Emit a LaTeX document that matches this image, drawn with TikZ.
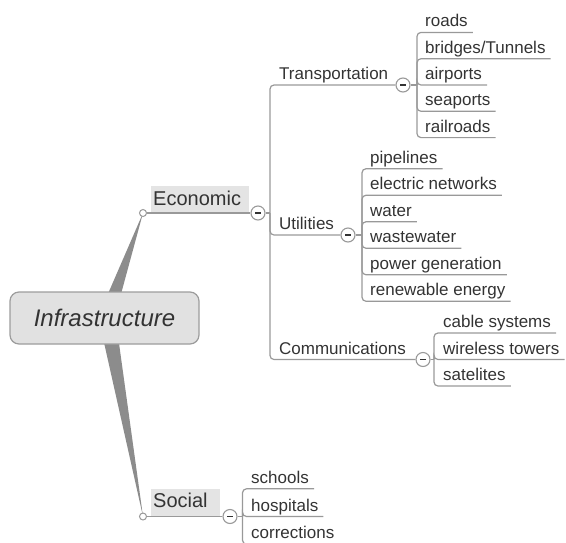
\documentclass[tikz,border=0pt]{standalone}
\usepackage{fontspec}
\setmainfont{Liberation Sans}
\usetikzlibrary{calc}
\definecolor{linegray}{HTML}{999999}
\definecolor{wedgegray}{HTML}{8C8C8C}
\definecolor{boxfill}{HTML}{E1E1E1}
\definecolor{boxline}{HTML}{9C9C9C}
\definecolor{ink}{HTML}{333333}
\definecolor{hilite}{HTML}{E4E4E4}
\pgfdeclarelayer{background}
\pgfsetlayers{background,main}

\begin{document}
\begin{tikzpicture}[x=1pt,y=-1pt,
  conn/.style={draw=linegray, line width=1.2pt},
  branch/.style={conn, rounded corners=4pt},
  leaf/.style={anchor=base west, inner sep=0pt, text=ink,
    font=\fontsize{17}{20}\selectfont},
  subtopic/.style={leaf},
  maintopic/.style={fill=hilite, anchor=north west, inner xsep=2pt,
    inner ysep=4pt, text height=15pt, text depth=4pt, align=left,
    text=ink, font=\fontsize{20}{24}\selectfont},
  central/.style={draw=boxline, fill=boxfill, rounded corners=9pt,
    line width=1.2pt, minimum width=189pt, minimum height=52pt,
    text=ink, font=\fontsize{24}{28}\selectfont\itshape},
  bullet/.style={circle, draw=linegray, fill=white, line width=1pt,
    minimum size=7pt, inner sep=0pt},
  fold/.style={circle, draw=linegray, fill=white, line width=1.1pt,
    minimum size=14pt, inner sep=0pt,
    path picture={\draw[ink, line width=1.4pt]
      ($(path picture bounding box.center)+(-3,0)$) -- ++(6,0);}},
]
\useasboundingbox (0,0) rectangle (566,542);

% central topic and its two tapered branches
\node[central] (infra) at (104.5,318) {Infrastructure};
\node[bullet] (econb) at (143,213) {};
\node[bullet] (socb) at (143,516.5) {};
\begin{pgfonlayer}{background}
  \fill[wedgegray] ($(infra.center)+(-7,0)$) -- (econb.center)
    -- ($(infra.center)+(10,0)$) -- cycle;
  \fill[wedgegray] ($(infra.center)+(-6,0)$) -- (socb.center)
    -- ($(infra.center)+(11,0)$) -- cycle;
\end{pgfonlayer}

% main topics
\node[maintopic, text width=94pt] (economic) at (151,186) {Economic};
\node[maintopic, text width=65pt] (social) at (151,488.5) {Social};
\node[fold] (cE) at (258,213) {};
\node[fold] (cS) at (230,516.5) {};
\draw[conn] (econb) -- (cE);
\draw[conn] (socb) -- (cS);

% Economic sub-branches
\coordinate (bE) at (270,213);
\node[subtopic] (transport) at (279,79.5) {Transportation};
\node[subtopic] (utilities) at (279,229.5) {Utilities};
\node[subtopic] (comms) at (279,354) {Communications};
\node[fold] (cT) at (403,85) {};
\node[fold] (cU) at (348,235) {};
\node[fold] (cC) at (423,359.5) {};
\draw[conn] (cE) -- (bE);
\draw[branch] (bE) |- (cT.west);
\draw[branch] (bE) |- (cU.west);
\draw[branch] (bE) |- (cC.west);

% Transportation
\coordinate (bT) at (417,85);
\draw[conn] (cT) -- (bT);
\node[leaf] (roads) at (425,26.9) {roads};
\node[leaf] (bridges) at (425,53.2) {bridges/Tunnels};
\node[leaf] (airports) at (425,79.5) {airports};
\node[leaf] (seaports) at (425,105.8) {seaports};
\node[leaf] (railroads) at (425,132.1) {railroads};
\draw[branch] (bT) |- ($(roads.base east)+(5,5.5)$);
\draw[branch] (bT) |- ($(bridges.base east)+(5,5.5)$);
\draw[branch] (bT) |- ($(airports.base east)+(5,5.5)$);
\draw[branch] (bT) |- ($(seaports.base east)+(5,5.5)$);
\draw[branch] (bT) |- ($(railroads.base east)+(5,5.5)$);

% Utilities
\coordinate (bU) at (362,235);
\draw[conn] (cU) -- (bU);
\node[leaf] (pipelines) at (370,163.25) {pipelines};
\node[leaf] (electric) at (370,189.75) {electric networks};
\node[leaf] (water) at (370,216.25) {water};
\node[leaf] (wastewater) at (370,242.75) {wastewater};
\node[leaf] (power) at (370,269.25) {power generation};
\node[leaf] (renewable) at (370,295.75) {renewable energy};
\draw[branch] (bU) |- ($(pipelines.base east)+(5,5.5)$);
\draw[branch] (bU) |- ($(electric.base east)+(5,5.5)$);
\draw[branch] (bU) |- ($(water.base east)+(5,5.5)$);
\draw[branch] (bU) |- ($(wastewater.base east)+(5,5.5)$);
\draw[branch] (bU) |- ($(power.base east)+(5,5.5)$);
\draw[branch] (bU) |- ($(renewable.base east)+(5,5.5)$);

% Communications
\coordinate (bC) at (434,359.5);
\draw[conn] (cC) -- (bC);
\node[leaf] (cable) at (443,327.5) {cable systems};
\node[leaf] (wireless) at (443,354) {wireless towers};
\node[leaf] (satelites) at (443,380.5) {satelites};
\draw[branch] (bC) |- ($(cable.base east)+(5,5.5)$);
\draw[branch] (bC) |- ($(wireless.base east)+(5,5.5)$);
\draw[branch] (bC) |- ($(satelites.base east)+(5,5.5)$);

% Social
\coordinate (bS) at (242.5,516.5);
\draw[conn] (cS) -- (bS);
\node[leaf] (schools) at (251,483.3) {schools};
\node[leaf] (hospitals) at (251,511) {hospitals};
\node[leaf] (corrections) at (251,538.7) {corrections};
\draw[branch] (bS) |- ($(schools.base east)+(5,5.5)$);
\draw[branch] (bS) |- ($(hospitals.base east)+(5,5.5)$);
\draw[branch] (bS) |- ($(corrections.base east)+(5,5.5)$);
\end{tikzpicture}
\end{document}
